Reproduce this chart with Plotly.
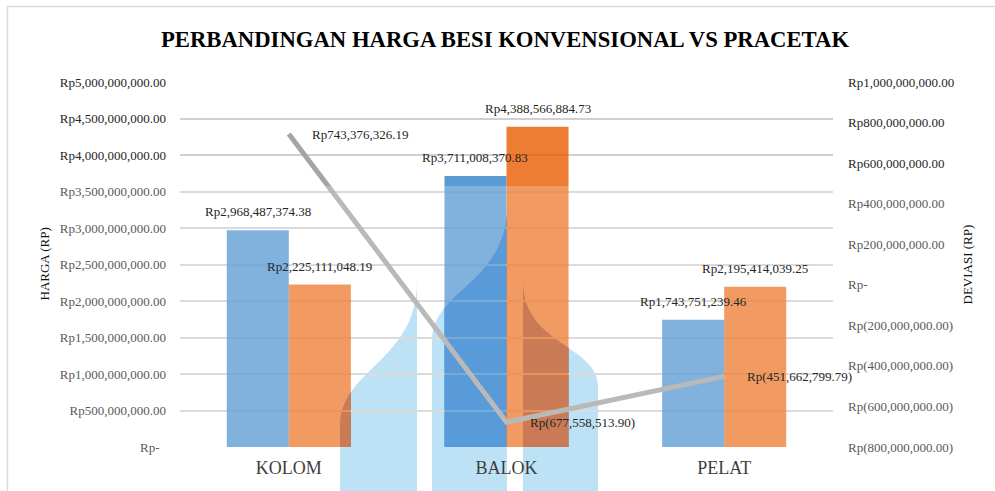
import plotly.graph_objects as go

# ---- data ----
categories = ["KOLOM", "BALOK", "PELAT"]
harga_konvensional = [2968487374.38, 3711008370.83, 1743751239.46]
harga_pracetak = [2225111048.19, 4388566884.73, 2195414039.25]
deviasi = [743376326.19, -677558513.90, -451662799.79]
harga_ticks = [i * 500_000_000 for i in range(11)]
deviasi_ticks = [-800_000_000 + i * 200_000_000 for i in range(10)]


def rupiah(v):
    if v == 0:
        return "Rp-"
    if v < 0:
        return f"Rp({abs(v):,.2f})"
    return f"Rp{v:,.2f}"


# ---- page geometry (pixels) ----
W_PAGE, H_PAGE = 995, 491
L, R, T, B = 180, 833, 82, 447
PW, PH = R - L, B - T
BARGAP = 0.43
CAT_W = PW / len(categories)
BAR_W = CAT_W * (1 - BARGAP) / 2
Y_MAX = 5_000_000_000

FONT = "Liberation Serif"
TXT = "#262626"


def px(x, y):
    return (x - L) / PW, (B - y) / PH


def cubic(p0, p1, p2, p3, n=24):
    pts = []
    for k in range(n + 1):
        t = k / n
        a, b, c, d = (1 - t) ** 3, 3 * (1 - t) ** 2 * t, 3 * (1 - t) * t ** 2, t ** 3
        pts.append((a * p0[0] + b * p1[0] + c * p2[0] + d * p3[0],
                    a * p0[1] + b * p1[1] + c * p2[1] + d * p3[1]))
    return pts


def clip(poly, x0, x1, y0, y1):
    def cut(pts, inside, inter):
        out = []
        for i in range(len(pts)):
            cur, prev = pts[i], pts[i - 1]
            if inside(cur):
                if not inside(prev):
                    out.append(inter(prev, cur))
                out.append(cur)
            elif inside(prev):
                out.append(inter(prev, cur))
        return out

    def ix(xc):
        return lambda p, q: (xc, p[1] + (q[1] - p[1]) * (xc - p[0]) / (q[0] - p[0]))

    def iy(yc):
        return lambda p, q: (p[0] + (q[0] - p[0]) * (yc - p[1]) / (q[1] - p[1]), yc)

    pts = poly
    for inside, inter in [
        (lambda p: p[0] >= x0, ix(x0)),
        (lambda p: p[0] <= x1, ix(x1)),
        (lambda p: p[1] >= y0, iy(y0)),
        (lambda p: p[1] <= y1, iy(y1)),
    ]:
        if not pts:
            break
        pts = cut(pts, inside, inter)
    return pts


def path_of(pts):
    segs = []
    for i, (x, y) in enumerate(pts):
        a, b = px(x, y)
        segs.append(("M" if i == 0 else "L") + f"{a:.5f},{b:.5f}")
    return " ".join(segs) + " Z"


# background logo outline (three flame-like strokes)
logo = [
    [(340, 495)] + cubic((340, 425), (340, 370), (417, 360), (417, 282)) + [(417, 495)],
    [(432, 495)] + cubic((432, 340), (432, 292), (500, 285), (507, 215)) + [(507, 495)],
    [(523, 495)] + cubic((523, 282), (523, 345), (598, 345), (598, 387)) + [(598, 495)],
]

BLUE = (50, 130, 203)
ORANGE = (232, 92, 0)
LOGO = "rgb(170,218,242)"
LOGO_ON = {"blue": "rgb(0,100,218)", "orange": "rgb(0,45,170)"}

shapes = [
    dict(type="rect", xref="paper", yref="paper", layer="below",
         x0=px(7.5, 0)[0], x1=px(998, 0)[0], y0=px(0, 498)[1], y1=px(0, 6.5)[1],
         line=dict(color="#D9D9D9", width=1.5), fillcolor="rgba(0,0,0,0)"),
]
for poly in logo:
    shapes.append(dict(type="path", xref="paper", yref="paper", layer="below",
                       path=path_of(poly), fillcolor=LOGO, line=dict(width=0)))

# parts of the logo sitting behind each (semi-transparent) bar
for i in range(len(categories)):
    cx = L + (i + 0.5) * CAT_W
    for key, vals, xa, xb in [("blue", harga_konvensional, cx - BAR_W, cx),
                              ("orange", harga_pracetak, cx, cx + BAR_W)]:
        top = B - vals[i] / Y_MAX * PH
        for poly in logo:
            part = clip(poly, xa, xb, top, B)
            if len(part) > 2:
                shapes.append(dict(type="path", xref="paper", yref="paper", layer="below",
                                   path=path_of(part), fillcolor=LOGO_ON[key],
                                   line=dict(width=0)))

# faded lower half of the page
shapes.append(dict(type="rect", xref="paper", yref="paper", layer="above",
                   x0=px(8, 0)[0], x1=px(995, 0)[0], y0=px(0, 495)[1], y1=px(0, 186)[1],
                   fillcolor="white", opacity=0.23, line=dict(width=0)))

fig = go.Figure()
fig.add_bar(x=categories, y=harga_konvensional, name="KONVENSIONAL",
            marker=dict(color="rgba(%d,%d,%d,0.8)" % BLUE, line=dict(width=0)),
            offsetgroup="konv", hoverinfo="skip")
fig.add_bar(x=categories, y=harga_pracetak, name="PRACETAK",
            marker=dict(color="rgba(%d,%d,%d,0.8)" % ORANGE, line=dict(width=0)),
            offsetgroup="pracetak", hoverinfo="skip")
fig.add_scatter(x=categories, y=deviasi, name="DEVIASI", yaxis="y2", mode="lines",
                line=dict(color="#A5A5A5", width=5), hoverinfo="skip")

annotations = []
for i, cat in enumerate(categories):
    for vals, shift in [(harga_konvensional, -BAR_W / 2), (harga_pracetak, BAR_W / 2)]:
        annotations.append(dict(x=cat, y=vals[i], xref="x", yref="y", xshift=shift, yshift=9,
                                text=rupiah(vals[i]), showarrow=False, yanchor="bottom",
                                font=dict(family=FONT, size=13, color=TXT)))
    annotations.append(dict(x=cat, y=deviasi[i], xref="x", yref="y2", xshift=21,
                            text=rupiah(deviasi[i]), showarrow=False,
                            xanchor="left", yanchor="middle",
                            font=dict(family=FONT, size=13, color=TXT)))

annotations.append(dict(x=px(44, 0)[0], y=0.5, xref="paper", yref="paper", textangle=-90,
                        xanchor="center", yanchor="middle",
                        text="HARGA (RP)", showarrow=False,
                        font=dict(family=FONT, size=13, color="#111111")))
annotations.append(dict(x=px(967, 0)[0], y=0.5, xref="paper", yref="paper", textangle=-90,
                        xanchor="center", yanchor="middle",
                        text="DEVIASI (RP)", showarrow=False,
                        font=dict(family=FONT, size=13, color="#111111")))

left_text = [rupiah(v) + ("\u00a0\u00a0" if v == 0 else "") for v in harga_ticks]

fig.update_layout(
    template="none",
    width=W_PAGE, height=H_PAGE, autosize=False,
    font=dict(family=FONT, color=TXT),
    margin=dict(l=L, r=W_PAGE - R, t=T, b=H_PAGE - B, pad=0),
    paper_bgcolor="white", plot_bgcolor="rgba(0,0,0,0)",
    barmode="group", bargap=BARGAP, bargroupgap=0,
    showlegend=False,
    title=dict(text="PERBANDINGAN HARGA BESI KONVENSIONAL VS PRACETAK",
               x=505 / W_PAGE, xanchor="center", xref="container",
               y=1 - 39 / H_PAGE, yanchor="middle", yref="container",
               font=dict(family=FONT, size=22.7, color="black", weight="bold")),
    xaxis=dict(type="category", range=[-0.5, 2.5], showgrid=False, zeroline=False,
               showline=False, ticks="", ticklabelstandoff=8,
               tickfont=dict(family=FONT, size=18, color="black")),
    yaxis=dict(range=[0, Y_MAX], tickvals=harga_ticks, ticktext=left_text,
               showgrid=True, gridcolor="#D0D0D0", gridwidth=1.5, zeroline=False,
               showline=False, ticks="", ticklabelstandoff=13,
               tickfont=dict(family=FONT, size=13, color=TXT)),
    yaxis2=dict(range=[-800_000_000, 1_000_000_000], tickvals=deviasi_ticks,
                ticktext=[rupiah(v) for v in deviasi_ticks], overlaying="y", side="right",
                showgrid=False, zeroline=False, showline=False, ticks="",
                ticklabelstandoff=14,
                tickfont=dict(family=FONT, size=13, color=TXT)),
    shapes=shapes,
    annotations=annotations,
)

fig.write_html("out.html")
